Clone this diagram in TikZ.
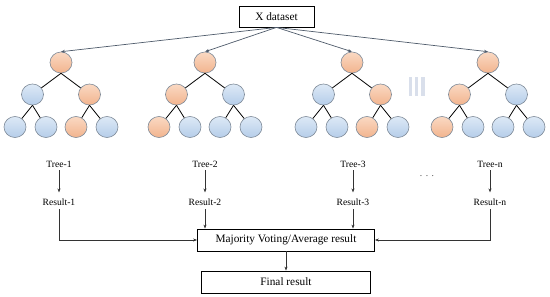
\documentclass[tikz,border=0pt]{standalone}
\usepackage{fontspec}
\setmainfont{Liberation Serif}
\usetikzlibrary{shapes.geometric,arrows.meta}
\definecolor{orT}{HTML}{FAD9C3}
\definecolor{orB}{HTML}{F2B48E}
\definecolor{blT}{HTML}{DDE9F6}
\definecolor{blB}{HTML}{B5CDE9}
\definecolor{ndline}{HTML}{7E8A98}
\definecolor{arrgray}{HTML}{4F5B6B}
\definecolor{barcol}{HTML}{D9DFEB}
\tikzset{
  tn/.style={ellipse, minimum width=22pt, minimum height=21pt, inner sep=0pt, draw=ndline, line width=0.6pt},
  O/.style={tn, top color=orT, bottom color=orB},
  B/.style={tn, top color=blT, bottom color=blB},
  edge/.style={line width=0.8pt, black},
  dsarrow/.style={line width=0.7pt, arrgray, -{Stealth[length=4pt,width=3pt]}},
  boxnode/.style={draw, line width=0.8pt, inner sep=0pt, font=\fontsize{11.3}{13}\selectfont},
  lbl/.style={font=\fontsize{9.6}{11}\selectfont, inner sep=0pt},
  flow/.style={line width=0.7pt, black!80, -{Stealth[length=4pt,width=3pt]}},
}
\newcommand\rftree[9]{%
  \node[#3] (#1r) at (#2,62.5) {};
  \node[#4] (#1a) at (#2-28.5,94.5) {};
  \node[#5] (#1b) at (#2+28.5,94.5) {};
  \node[#6] (#1c) at (#2-46,127) {};
  \node[#7] (#1d) at (#2-15,127) {};
  \node[#8] (#1e) at (#2+15,127) {};
  \node[#9] (#1f) at (#2+46,127) {};
  \draw[edge] (#1r.south) -- (#1a);
  \draw[edge] (#1r.south) -- (#1b);
  \draw[edge] (#1a.south) -- (#1c);
  \draw[edge] (#1a.south) -- (#1d);
  \draw[edge] (#1b.south) -- (#1e);
  \draw[edge] (#1b.south) -- (#1f);
}
\begin{document}
\begin{tikzpicture}[x=1pt,y=-1pt]
\useasboundingbox (0,0) rectangle (550,297);
\fill[white] (0,0) rectangle (550,297);

\node[boxnode, minimum width=75pt, minimum height=21pt] (xds) at (276.5,16.5) {X dataset};

\rftree{t1}{61}{O}{B}{O}{B}{B}{O}{B}
\rftree{t2}{205}{O}{O}{B}{O}{B}{B}{B}
\rftree{t3}{352}{O}{B}{O}{B}{B}{O}{B}
\rftree{tn}{488}{O}{O}{B}{O}{B}{B}{B}

\draw[dsarrow] (xds.south) -- (t1r.north);
\draw[dsarrow] (xds.south) -- (t2r.north);
\draw[dsarrow] (xds.south) -- (t3r.north);
\draw[dsarrow] (xds.south) -- (tnr.north);

% ellipsis bars
\fill[barcol] (408.5,77) rectangle (412,96);
\fill[barcol] (414.8,77) rectangle (418.3,96);
\fill[barcol] (421.1,77) rectangle (424.6,96);

\node[lbl] (tree1) at (59,164) {Tree-1};
\node[lbl] (tree2) at (205,164) {Tree-2};
\node[lbl] (tree3) at (353,164) {Tree-3};
\node[lbl] (treen) at (490,164) {Tree-n};
\node[lbl, text=black!70] (dots) at (427,176) {.\hspace{3.5pt}.\hspace{3.5pt}.};

\node[lbl] (res1) at (59,202) {Result-1};
\node[lbl] (res2) at (205,202) {Result-2};
\node[lbl] (res3) at (353,202) {Result-3};
\node[lbl] (resn) at (490,202) {Result-n};

\foreach \a/\b in {tree1/res1,tree2/res2,tree3/res3,treen/resn}
  \draw[flow, shorten <=3pt, shorten >=6pt] (\a.south) -- (\b.north);

\node[boxnode, minimum width=177pt, minimum height=22pt] (maj) at (286,240) {Majority Voting/Average result};
\node[boxnode, minimum width=169pt, minimum height=22pt] (fin) at (286,282) {Final result};

\draw[flow, shorten <=3.5pt] (res1.south) |- (maj.west);
\draw[flow, shorten <=3.5pt] (res2.south) -- (res2.south |- maj.north);
\draw[flow, shorten <=3.5pt] (res3.south) -- (res3.south |- maj.north);
\draw[flow, shorten <=3.5pt] (resn.south) |- (maj.east);
\draw[flow] (maj.south) -- (fin.north);
\end{tikzpicture}
\end{document}
